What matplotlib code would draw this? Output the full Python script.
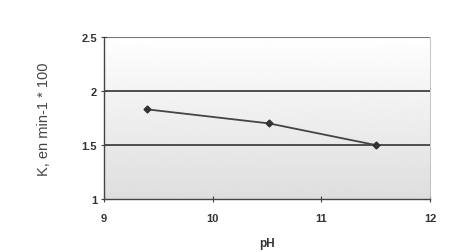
import numpy as np
import matplotlib
matplotlib.use("Agg")
import matplotlib.pyplot as plt

ph = [9.4, 10.52, 11.5]
k = [1.83, 1.70, 1.50]
xticks = [9, 10, 11, 12]
yticks = [1, 1.5, 2, 2.5]
ytick_labels = ["1", "1.5", "2", "2.5"]

plt.rcParams['font.family'] = ['Liberation Sans', 'DejaVu Sans']

fig = plt.figure(figsize=(4.64, 2.53), dpi=100)
ax = fig.add_axes([0.224, 0.209, 0.703, 0.641])
ax.set_xlim(9, 12)
ax.set_ylim(1, 2.5)

grad = np.linspace(0.87, 1.0, 256).reshape(-1, 1)
ax.imshow(grad, cmap='gray', vmin=0, vmax=1, aspect='auto',
          extent=[9, 12, 1, 2.5], origin='lower', zorder=0)

for yv in [1.5, 2.0]:
    ax.axhline(yv, color='#333333', lw=1.2, zorder=1)
ax.axhline(2.5, color='#777777', lw=0.8, zorder=1)

ax.plot(ph, k, color='#444444', lw=1.3, marker='D', ms=3.5,
        markerfacecolor='#333333', markeredgecolor='#333333', zorder=3)

ax.set_xticks(xticks)
ax.set_yticks(yticks)
ax.set_yticklabels(ytick_labels)
for lab in ax.get_xticklabels() + ax.get_yticklabels():
    lab.set_fontweight('bold')
    lab.set_fontsize(8)
    lab.set_color('#333333')
ax.tick_params(axis='both', direction='inout', length=4, width=0.8, color='#444444', pad=3)
ax.tick_params(axis='x', pad=8)

for s in ['left', 'bottom']:
    ax.spines[s].set_color('#444444')
    ax.spines[s].set_linewidth(1.0)
ax.spines['top'].set_visible(False)
ax.spines['right'].set_color('#bbbbbb')
ax.spines['right'].set_linewidth(0.6)

ax.set_xlabel('pH', fontsize=8.5, fontweight='bold', color='#333333', labelpad=10)
ax.set_ylabel('K, en min-1 * 100', fontsize=10.5, color='#444444', labelpad=22)

fig.savefig('out.png', dpi=100, facecolor='white')
